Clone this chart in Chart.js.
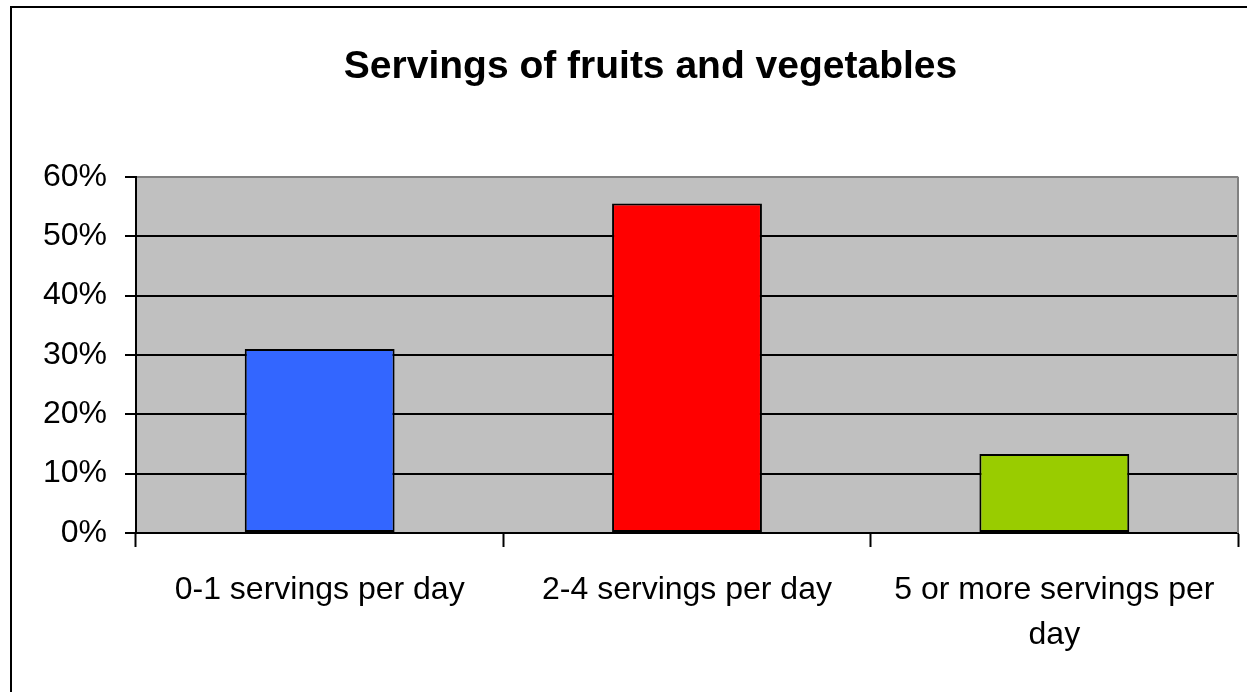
<!DOCTYPE html>
<html>
<head>
<meta charset="utf-8">
<title>Servings of fruits and vegetables</title>
<script src="https://cdn.jsdelivr.net/npm/chart.js@4.4.1/dist/chart.umd.min.js"></script>
<style>
    body { margin: 0; background: #ffffff; }
    canvas { display: block; }
</style>
</head>
<body>
<canvas id="bar-chart" width="1247" height="692"></canvas>
<script>
    // values
    var categories = ["0-1 servings per day", "2-4 servings per day", ["5 or more servings per", "day"]];
    var percents = [31, 55.5, 13.3];
    var barColors = ["#3366FF", "#FF0000", "#99CC00"];
    var yTicks = [0, 10, 20, 30, 40, 50, 60];

    var fontFamily = "'Liberation Sans', Arial, sans-serif";

    // gray plot background, gray right edge, frame round the whole picture
    var excelLook = {
        id: "excelLook",
        afterLayout: function (chart) {
            // the title sits centred on the frame, not on the canvas
            if (chart.titleBlock) {
                chart.titleBlock.left = 62;
                chart.titleBlock.right = 1239;
            }
        },
        beforeDraw: function (chart) {
            var ctx = chart.ctx;
            var a = chart.chartArea;
            ctx.save();
            ctx.fillStyle = "#C0C0C0";
            ctx.fillRect(a.left, a.top, a.right - a.left, a.bottom - a.top);
            ctx.restore();
        },
        beforeDatasetsDraw: function (chart) {
            var ctx = chart.ctx;
            var a = chart.chartArea;
            ctx.save();
            ctx.strokeStyle = "#808080";
            ctx.lineWidth = 2;
            ctx.beginPath();
            ctx.moveTo(a.right, a.top);
            ctx.lineTo(a.right, a.bottom);
            ctx.stroke();
            ctx.restore();
        },
        afterDraw: function (chart) {
            var ctx = chart.ctx;
            ctx.save();
            ctx.strokeStyle = "#000000";
            ctx.lineWidth = 2;
            ctx.strokeRect(11, 7, 1260, 700);
            ctx.restore();
        }
    };

    new Chart(document.getElementById("bar-chart"), {
        type: "bar",
        data: {
            labels: categories,
            datasets: [{
                data: percents,
                backgroundColor: barColors,
                borderColor: "#000000",
                borderWidth: 2,
                borderSkipped: false,
                categoryPercentage: 1.0,
                barPercentage: 0.408
            }]
        },
        options: {
            responsive: false,
            animation: false,
            layout: { padding: { left: 0, right: 9, top: 0, bottom: 0 } },
            plugins: {
                legend: { display: false },
                tooltip: { enabled: false },
                title: {
                    display: true,
                    text: "Servings of fruits and vegetables",
                    color: "#000000",
                    font: { family: fontFamily, size: 39, weight: "bold", lineHeight: 1.2 },
                    padding: { top: 44, bottom: 86 }
                }
            },
            scales: {
                x: {
                    grid: {
                        offset: true,
                        drawOnChartArea: false,
                        drawTicks: true,
                        tickLength: 14,
                        tickWidth: 2,
                        tickColor: "#000000"
                    },
                    border: { display: true, color: "#000000", width: 2 },
                    ticks: {
                        color: "#000000",
                        maxRotation: 0,
                        autoSkip: false,
                        padding: 20,
                        font: { family: fontFamily, size: 32, lineHeight: 1.42 }
                    },
                    afterFit: function (scale) {
                        scale.height = 159;
                    }
                },
                y: {
                    min: 0,
                    max: 60,
                    afterBuildTicks: function (scale) {
                        scale.ticks = yTicks.map(function (v) { return { value: v }; });
                    },
                    grid: {
                        color: function (c) {
                            return c.tick && c.tick.value === 60 ? "#808080" : "#000000";
                        },
                        lineWidth: 2,
                        tickColor: "#000000",
                        tickLength: 11
                    },
                    border: { display: true, color: "#000000", width: 2 },
                    ticks: {
                        color: "#000000",
                        padding: 18,
                        font: { family: fontFamily, size: 32 },
                        callback: function (v) { return v + "%"; }
                    },
                    afterFit: function (scale) {
                        scale.width = 136;
                    }
                }
            }
        },
        plugins: [excelLook]
    });
</script>
</body>
</html>
